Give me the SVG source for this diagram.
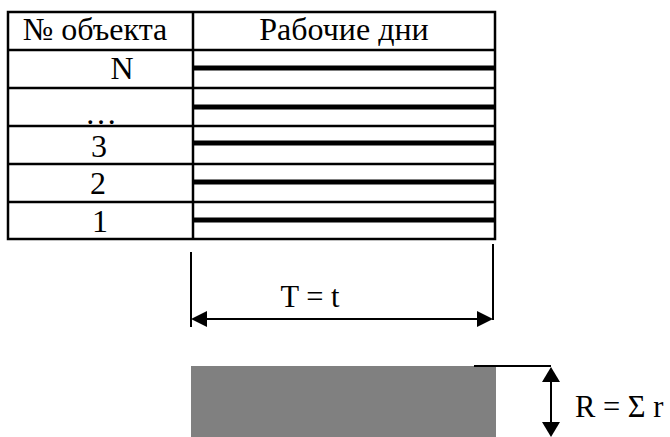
<svg xmlns="http://www.w3.org/2000/svg" width="670" height="437" viewBox="0 0 670 437">
<style>
.t{font-family:"Liberation Serif","Times New Roman",serif;font-size:30.5px;fill:#000}
.h{font-size:32px}
.b{stroke:#000;stroke-width:2.5;fill:none}
.bar{stroke:#000;stroke-width:5}
.ln{stroke:#000;stroke-width:2;fill:none}
.ah{fill:#000}
</style>
<rect width="670" height="437" fill="#fff"/>
<g id="table">
<rect class="b" x="8" y="12" width="487" height="227"/>
<line class="b" x1="193" y1="12" x2="193" y2="239"/>
<line class="b" x1="8" y1="50" x2="495" y2="50"/>
<line class="b" x1="8" y1="88" x2="495" y2="88"/>
<line class="b" x1="8" y1="126" x2="495" y2="126"/>
<line class="b" x1="8" y1="164" x2="495" y2="164"/>
<line class="b" x1="8" y1="202" x2="495" y2="202"/>
<text class="t h" x="95" y="40" text-anchor="middle">№ объекта</text>
<text class="t h" x="344" y="40" text-anchor="middle">Рабочие дни</text>
</g>
<g id="row-N"><text class="t h" x="122" y="79" text-anchor="middle">N</text><line class="bar" x1="193" y1="68" x2="495" y2="68"/></g>
<g id="row-dots"><text class="t h" x="101" y="124" text-anchor="middle">…</text><line class="bar" x1="193" y1="107" x2="495" y2="107"/></g>
<g id="row-3"><text class="t h" x="99" y="157" text-anchor="middle">3</text><line class="bar" x1="193" y1="143" x2="495" y2="143"/></g>
<g id="row-2"><text class="t h" x="98" y="194" text-anchor="middle">2</text><line class="bar" x1="193" y1="182" x2="495" y2="182"/></g>
<g id="row-1"><text class="t h" x="100" y="232" text-anchor="middle">1</text><line class="bar" x1="193" y1="220" x2="495" y2="220"/></g>
<g id="resource">
<rect x="191" y="366" width="305" height="71" fill="#808080"/>
</g>
<g id="connectors">
<line class="ln" x1="191" y1="252" x2="191" y2="327"/>
<line class="ln" x1="493" y1="244" x2="493" y2="320"/>
<line class="ln" x1="205" y1="319" x2="479" y2="319"/>
<polygon class="ah" points="191,319 207,311 207,327"/>
<polygon class="ah" points="493,319 477,311 477,327"/>
<line class="ln" x1="474" y1="366" x2="551" y2="366"/>
<line class="ln" x1="551" y1="380" x2="551" y2="424"/>
<polygon class="ah" points="551,367 542,382 560,382"/>
<polygon class="ah" points="551,437 542,422 560,422"/>
</g>
<text class="t" x="310" y="307" text-anchor="middle">T = t</text>
<text class="t" x="575" y="417">R = Σ r</text>
</svg>
